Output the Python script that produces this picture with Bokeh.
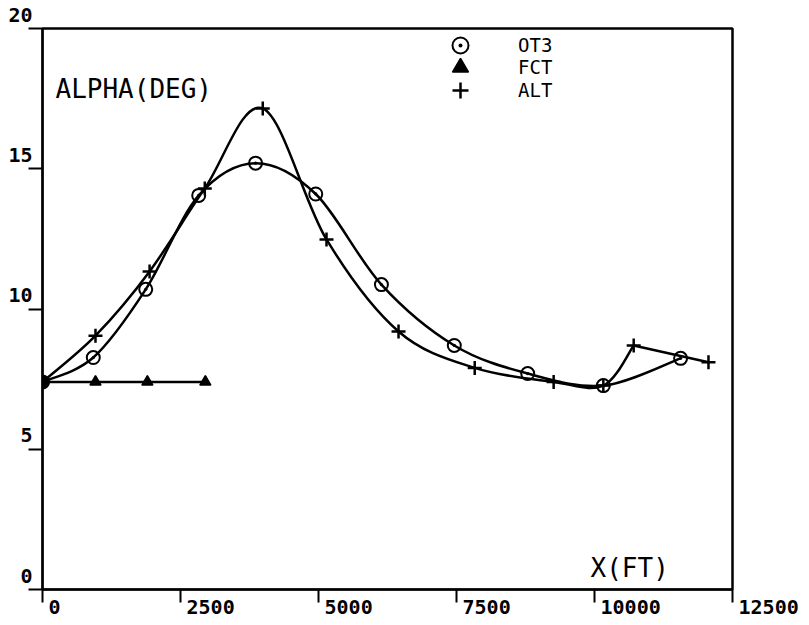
from bokeh.plotting import figure
from bokeh.models import FixedTicker, Label, Legend, LegendItem, Range1d
from bokeh.embed import file_html
from bokeh.resources import INLINE

# ---- data ----
ot3_x = [0, 920, 1870, 2830, 3860, 4950, 6140, 7460, 8790, 10160, 11560]
ot3_y = [7.4, 8.27, 10.7, 14.05, 15.2, 14.1, 10.87, 8.7, 7.7, 7.27, 8.24]

fct_x = [0, 960, 1900, 2950]
fct_y = [7.4, 7.4, 7.4, 7.4]

alt_x = [0, 960, 1940, 2940, 3990, 5145, 6450, 7830, 9260, 10160, 10710, 12065]
alt_y = [7.4, 9.05, 11.34, 14.3, 17.15, 12.48, 9.2, 7.9, 7.4, 7.27, 8.7, 8.1]

x_ticks = [0, 2500, 5000, 7500, 10000, 12500]
y_ticks = [0, 5, 10, 15, 20]

FONT = "DejaVu Sans Mono"
NB = "\u00a0"


def catmull_rom(xs, ys):
    """Bezier control points for a smooth curve through the given points."""
    n = len(xs)
    out = dict(x0=[], y0=[], x1=[], y1=[], cx0=[], cy0=[], cx1=[], cy1=[])
    for i in range(n - 1):
        p0 = (xs[max(i - 1, 0)], ys[max(i - 1, 0)])
        p1 = (xs[i], ys[i])
        p2 = (xs[i + 1], ys[i + 1])
        p3 = (xs[min(i + 2, n - 1)], ys[min(i + 2, n - 1)])
        out["x0"].append(p1[0]); out["y0"].append(p1[1])
        out["x1"].append(p2[0]); out["y1"].append(p2[1])
        out["cx0"].append(p1[0] + (p2[0] - p0[0]) / 6.0)
        out["cy0"].append(p1[1] + (p2[1] - p0[1]) / 6.0)
        out["cx1"].append(p2[0] - (p3[0] - p1[0]) / 6.0)
        out["cy1"].append(p2[1] - (p3[1] - p1[1]) / 6.0)
    return out


def draw_smooth(fig, xs, ys):
    c = catmull_rom(xs, ys)
    fig.bezier(x0=c["x0"], y0=c["y0"], x1=c["x1"], y1=c["y1"],
               cx0=c["cx0"], cy0=c["cy0"], cx1=c["cx1"], cy1=c["cy1"],
               line_color="black", line_width=2.5)


p = figure(width=809, height=625, output_backend="svg", toolbar_location=None,
           x_range=Range1d(0, 12500), y_range=Range1d(0, 20),
           min_border_left=42, min_border_right=77, min_border_top=28, min_border_bottom=36)
p.background_fill_color = "white"
p.border_fill_color = "white"
p.outline_line_color = "black"
p.outline_line_width = 2.5
p.xgrid.visible = False
p.ygrid.visible = False

# curves
draw_smooth(p, ot3_x, ot3_y)
draw_smooth(p, alt_x[:-1], alt_y[:-1])
p.line(alt_x[-2:], alt_y[-2:], line_color="black", line_width=2.5)
p.line(fct_x, fct_y, line_color="black", line_width=2.5)

# markers
r_ot3 = p.scatter(ot3_x, ot3_y, marker="circle_dot", size=13, line_color="black",
                  line_width=2, fill_color=None)
r_fct = p.scatter(fct_x, fct_y, marker="triangle", size=11, line_color="black",
                  fill_color="black", line_width=1.5)
r_alt = p.scatter(alt_x, alt_y, marker="cross", size=14, line_color="black", line_width=2.5)
p.scatter(ot3_x[:1], ot3_y[:1], marker="circle", size=11, line_color="black",
          fill_color="black")

# legend: one entry per Legend so the rows can sit close together with large markers
legend_rows = [("OT3", r_ot3, 524), ("FCT", r_fct, 502), ("ALT", r_alt, 479)]
for name, rend, vy in legend_rows:
    lg = Legend(items=[LegendItem(label=name, renderers=[rend])],
                location=(398, vy), glyph_width=40, glyph_height=40,
                padding=0, margin=0, label_standoff=38,
                label_text_font=FONT, label_text_font_size="19px", label_text_color="black",
                background_fill_alpha=0, border_line_alpha=0)
    p.add_layout(lg)

# axes
for ax in (p.xaxis, p.yaxis):
    ax.axis_line_color = "black"
    ax.axis_line_width = 2
    ax.major_tick_line_color = "black"
    ax.major_tick_line_width = 2
    ax.major_tick_in = 0
    ax.minor_tick_line_color = None
    ax.major_label_text_font = FONT
    ax.major_label_text_font_size = "20px"
    ax.major_label_text_font_style = "bold"
    ax.major_label_text_color = "black"

p.xaxis.ticker = FixedTicker(ticks=x_ticks)
p.xaxis.major_tick_out = 13
p.xaxis.major_label_standoff = -8
p.xaxis.major_label_overrides = {t: NB * (len(str(t)) + 1) + str(t) for t in x_ticks}

p.yaxis.ticker = FixedTicker(ticks=y_ticks)
p.yaxis.major_tick_out = 14
p.yaxis.major_label_standoff = -4
p.yaxis.major_label_text_line_height = 1.15
p.yaxis.major_label_overrides = {t: str(t) + "\n" + NB for t in y_ticks}

# axis titles placed as in the reference
p.add_layout(Label(x=235, y=17.84, text="ALPHA(DEG)", text_font=FONT, text_font_size="26px",
                   text_baseline="middle", text_color="black"))
p.add_layout(Label(x=9928, y=0.78, text="X(FT)", text_font=FONT, text_font_size="26px",
                   text_baseline="middle", text_color="black"))

open("out.html", "w").write(file_html(p, INLINE))
